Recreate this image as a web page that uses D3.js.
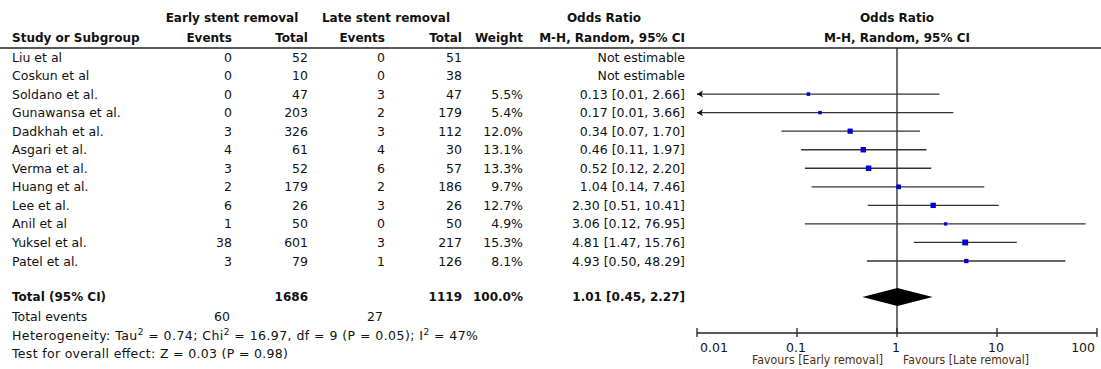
<!DOCTYPE html>
<html>
<head>
<meta charset="utf-8">
<script src="https://cdn.jsdelivr.net/npm/d3@7"></script>
<style>
  html, body { margin: 0; padding: 0; background: #fff; }
  svg { display: block; font-family: "DejaVu Sans", Verdana, sans-serif; }
  text { fill: #111; }
</style>
</head>
<body>
<svg id="chart" width="1101" height="369"></svg>
<script>
// Study-level data
const studies      = ["Liu et al", "Coskun et al", "Soldano et al.", "Gunawansa et al.", "Dadkhah et al.", "Asgari et al.", "Verma et al.", "Huang et al.", "Lee et al.", "Anil et al", "Yuksel et al.", "Patel et al."];
const earlyEvents  = [0, 0, 0, 0, 3, 4, 3, 2, 6, 1, 38, 3];
const earlyTotal   = [52, 10, 47, 203, 326, 61, 52, 179, 26, 50, 601, 79];
const lateEvents   = [0, 0, 3, 2, 3, 4, 6, 2, 3, 0, 3, 1];
const lateTotal    = [51, 38, 47, 179, 112, 30, 57, 186, 26, 50, 217, 126];
const weights      = [null, null, 5.5, 5.4, 12.0, 13.1, 13.3, 9.7, 12.7, 4.9, 15.3, 8.1];
const oddsRatio    = [null, null, 0.13, 0.17, 0.34, 0.46, 0.52, 1.04, 2.30, 3.06, 4.81, 4.93];
const ciLower      = [null, null, 0.01, 0.01, 0.07, 0.11, 0.12, 0.14, 0.51, 0.12, 1.47, 0.50];
const ciUpper      = [null, null, 2.66, 3.66, 1.70, 1.97, 2.20, 7.46, 10.41, 76.95, 15.76, 48.29];

// Pooled result
const pooled = { or: 1.01, lower: 0.45, upper: 2.27, earlyTotal: 1686, lateTotal: 1119, weight: 100.0, earlyEvents: 60, lateEvents: 27 };
const axisTicks  = [0.01, 0.1, 1, 10, 100];
const tickLabels = ["0.01", "0.1", "1", "10", "100"];

const svg = d3.select("#chart");
const fs = 12.5;   // regular text
const fsBold = 12; // bold headers / totals

const rowY = d3.scalePoint().domain(studies).range([57, 261]);
const x = d3.scaleLog().domain([0.01, 100]).range([697, 1097]);

const fmt2 = d3.format(".2f");
const fmtW = d => d.toFixed(1) + "%";

// Column anchors (right edges)
const col = { name: 12, eEv: 232, eTot: 308, lEv: 385, lTot: 462, w: 523, or: 685 };

function txt(xp, yp, s, opts = {}) {
  return svg.append("text")
    .attr("x", xp).attr("y", yp).attr("dy", "0.36em")
    .attr("text-anchor", opts.anchor || "start")
    .attr("font-size", opts.size || (opts.bold ? fsBold : fs))
    .attr("font-weight", opts.bold ? "bold" : null)
    .style("fill", opts.color || null)
    .text(s);
}

// Header
txt(232, 18, "Early stent removal", { anchor: "middle", bold: true });
txt(386, 18, "Late stent removal", { anchor: "middle", bold: true });
txt(604, 18, "Odds Ratio", { anchor: "middle", bold: true });
txt(897, 18, "Odds Ratio", { anchor: "middle", bold: true });
txt(col.name, 38, "Study or Subgroup", { bold: true });
txt(col.eEv, 38, "Events", { anchor: "end", bold: true });
txt(col.eTot, 38, "Total", { anchor: "end", bold: true });
txt(col.lEv, 38, "Events", { anchor: "end", bold: true });
txt(col.lTot, 38, "Total", { anchor: "end", bold: true });
txt(col.w, 38, "Weight", { anchor: "end", bold: true });
txt(col.or, 38, "M-H, Random, 95% CI", { anchor: "end", bold: true });
txt(897, 38, "M-H, Random, 95% CI", { anchor: "middle", bold: true });

svg.append("line").attr("x1", 0).attr("x2", 1101).attr("y1", 48).attr("y2", 48)
  .attr("stroke", "#222").attr("stroke-width", 1.5);

// Study rows
studies.forEach((s, i) => {
  const y = rowY(s);
  txt(col.name, y, s);
  txt(col.eEv, y, earlyEvents[i], { anchor: "end" });
  txt(col.eTot, y, earlyTotal[i], { anchor: "end" });
  txt(col.lEv, y, lateEvents[i], { anchor: "end" });
  txt(col.lTot, y, lateTotal[i], { anchor: "end" });
  if (weights[i] != null) txt(col.w, y, fmtW(weights[i]), { anchor: "end" });
  const orText = oddsRatio[i] == null ? "Not estimable"
    : `${fmt2(oddsRatio[i])} [${fmt2(ciLower[i])}, ${fmt2(ciUpper[i])}]`;
  txt(col.or, y, orText, { anchor: "end" });
});

// Line of no effect
svg.append("line").attr("x1", x(1)).attr("x2", x(1)).attr("y1", 48).attr("y2", 333)
  .attr("stroke", "#222").attr("stroke-width", 1.3);

// Confidence intervals and point estimates
const [xMin, xMax] = x.domain();
studies.forEach((s, i) => {
  if (oddsRatio[i] == null) return;
  const y = rowY(s);
  const lo = Math.max(ciLower[i], xMin), hi = Math.min(ciUpper[i], xMax);
  svg.append("line").attr("x1", x(lo)).attr("x2", x(hi)).attr("y1", y).attr("y2", y)
    .attr("stroke", "#333").attr("stroke-width", 1.3);
  if (ciLower[i] <= xMin) {
    const ax = x(xMin);
    svg.append("path")
      .attr("d", `M${ax},${y} L${ax + 6},${y - 3.5} L${ax + 4.5},${y} L${ax + 6},${y + 3.5} Z`)
      .attr("fill", "#111");
  }
  const side = Math.sqrt(weights[i]) * 1.5;
  svg.append("rect")
    .attr("x", x(oddsRatio[i]) - side / 2).attr("y", y - side / 2)
    .attr("width", side).attr("height", side)
    .attr("fill", "#0000d0");
});

// Totals
const yTot = 297;
txt(col.name, yTot, "Total (95% CI)", { bold: true });
txt(col.eTot, yTot, pooled.earlyTotal, { anchor: "end", bold: true });
txt(col.lTot, yTot, pooled.lateTotal, { anchor: "end", bold: true });
txt(col.w, yTot, fmtW(pooled.weight), { anchor: "end", bold: true });
txt(col.or, yTot, `${fmt2(pooled.or)} [${fmt2(pooled.lower)}, ${fmt2(pooled.upper)}]`, { anchor: "end", bold: true });

svg.append("path")
  .attr("d", `M${x(pooled.lower)},${yTot} L${x(pooled.or)},${yTot - 9} L${x(pooled.upper)},${yTot} L${x(pooled.or)},${yTot + 9} Z`)
  .attr("fill", "#000");

txt(col.name, 316, "Total events");
txt(230, 316, pooled.earlyEvents, { anchor: "end" });
txt(383, 316, pooled.lateEvents, { anchor: "end" });

// Heterogeneity line with superscripts
const parts = [["Heterogeneity: Tau", false], ["2", true], [" = 0.74; Chi", false], ["2", true],
               [" = 16.97, df = 9 (P = 0.05); I", false], ["2", true], [" = 47%", false]];
const het = svg.append("text").attr("x", col.name).attr("y", 335).attr("dy", "0.36em")
  .attr("font-size", fs).attr("textLength", 466).attr("lengthAdjust", "spacing");
parts.forEach(([t, sup], i) => {
  const prevSup = i > 0 && parts[i - 1][1];
  het.append("tspan").text(t)
    .attr("font-size", sup ? 9 : null)
    .attr("dy", sup ? "-0.5em" : (prevSup ? "0.36em" : null));
});

txt(col.name, 353, "Test for overall effect: Z = 0.03 (P = 0.98)")
  .attr("textLength", 276).attr("lengthAdjust", "spacing");

// Log axis
const axisY = 333;
svg.append("line").attr("x1", x(xMin)).attr("x2", x(xMax)).attr("y1", axisY).attr("y2", axisY)
  .attr("stroke", "#222").attr("stroke-width", 1.3);
axisTicks.forEach((t, i) => {
  svg.append("line").attr("x1", x(t)).attr("x2", x(t)).attr("y1", axisY - 5).attr("y2", axisY + 4)
    .attr("stroke", "#222").attr("stroke-width", 1.3);
  const anchor = i === 0 ? "start" : (i === axisTicks.length - 1 ? "end" : "middle");
  const off = i === 0 ? 3 : (i === axisTicks.length - 1 ? -2 : -1);
  txt(x(t) + off, 347, tickLabels[i], { anchor });
});

txt(883, 360, "Favours [Early removal]", { anchor: "end", size: 12, color: "#4d2e0c" })
  .attr("textLength", 131).attr("lengthAdjust", "spacingAndGlyphs");
txt(903, 360, "Favours [Late removal]", { anchor: "start", size: 12, color: "#4d2e0c" })
  .attr("textLength", 126).attr("lengthAdjust", "spacingAndGlyphs");
</script>
</body>
</html>
